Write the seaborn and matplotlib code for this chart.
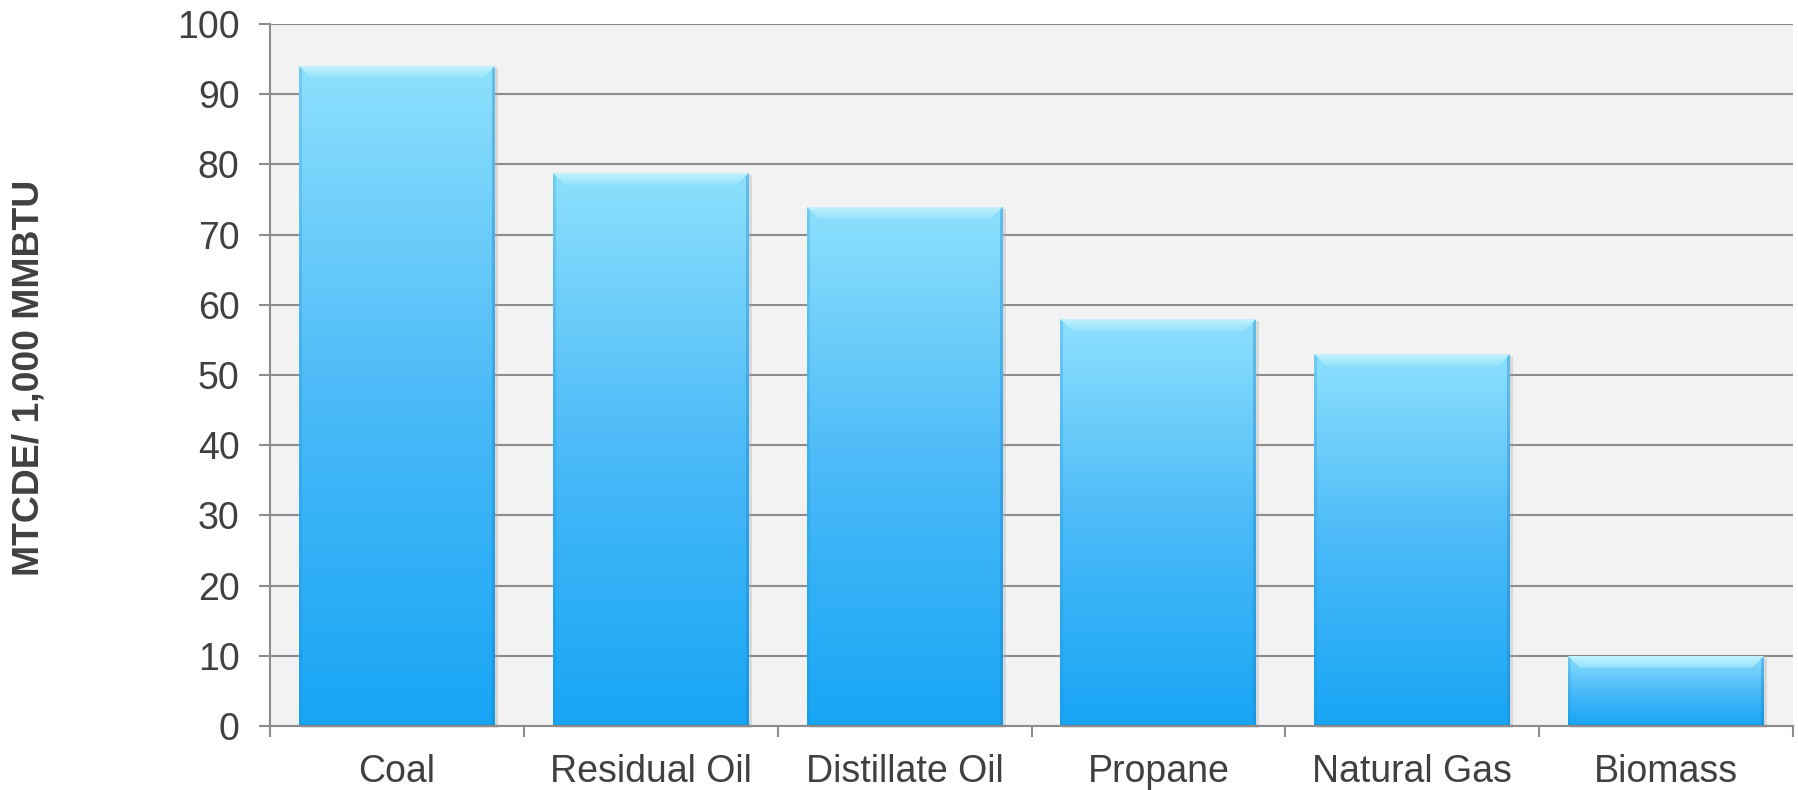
import numpy as np
import pandas as pd
import matplotlib
matplotlib.use("Agg")
import matplotlib.pyplot as plt
import seaborn as sns
from matplotlib.colors import LinearSegmentedColormap
from matplotlib.patches import Polygon, Rectangle

categories = ["Coal", "Residual Oil", "Distillate Oil", "Propane", "Natural Gas", "Biomass"]
values = [94, 78.8, 74, 58, 53, 10]
y_ticks = [0, 10, 20, 30, 40, 50, 60, 70, 80, 90, 100]
y_label = "MTCDE/ 1,000 MMBTU"

sns.set_theme(style="white")
plt.rcParams['font.family'] = ['Liberation Sans', 'DejaVu Sans']

W, H = 1798, 790
fig = plt.figure(figsize=(W / 100, H / 100), dpi=100)
left, right, top, bottom = 270, 1793, 24, 726
ax = fig.add_axes([left / W, (H - bottom) / H, (right - left) / W, (bottom - top) / H])
ax.set_facecolor("#f2f2f2")

df = pd.DataFrame({"cat": categories, "val": values})
sns.barplot(data=df, x="cat", y="val", ax=ax, color="#5bc1f8", width=0.772,
            saturation=1, edgecolor="none", linewidth=0, zorder=3)

ax.set_xlim(-0.5, len(categories) - 0.5)
ax.set_ylim(0, 100)
ax.set_yticks(y_ticks)

grid_c = "#8c8c8c"
ax.yaxis.grid(True, color=grid_c, linewidth=1.5, zorder=0)
ax.xaxis.grid(False)
for s in ["top", "right"]:
    ax.spines[s].set_visible(False)
for s in ["left", "bottom"]:
    ax.spines[s].set_color(grid_c)
    ax.spines[s].set_linewidth(1.5)
    ax.spines[s].set_zorder(4)

txt_c = "#404040"
ax.tick_params(axis="y", which="major", length=8, width=1.5, color=grid_c,
               labelsize=27, labelcolor=txt_c, pad=14, left=True)
ax.tick_params(axis="x", which="major", length=0, labelsize=27, labelcolor=txt_c, pad=20)
ax.set_xticks(np.arange(-0.5, len(categories) + 0.5, 1.0), minor=True)
ax.tick_params(axis="x", which="minor", length=8, width=1.5, color=grid_c, bottom=True)
ax.set_xlabel("")
ax.set_ylabel("")
fig.text(29 / W, 1 - 378 / H, y_label, rotation=90, ha="center", va="center",
         fontsize=26.9, fontweight="bold", color=txt_c)

body = LinearSegmentedColormap.from_list("body", ["#17a5f5", "#4bbaf8", "#8de0fc"])
bevel = LinearSegmentedColormap.from_list("bev", ["#93e2fc", "#c4f3fe"])
grad = np.linspace(0, 1, 256).reshape(-1, 1)

dx_px = 6.0 / (right - left)
dy_px = 100.0 / (bottom - top)
bev = 12
for p in list(ax.patches):
    x, w, h = p.get_x(), p.get_width(), p.get_height()
    sh = Rectangle((x + 2 * dx_px, -2 * dy_px), w + 1 * dx_px, h, facecolor="#a0a0a0", alpha=0.3,
                   edgecolor="none", zorder=2, clip_on=False)
    ax.add_patch(sh)
    im = ax.imshow(grad, cmap=body, aspect="auto", origin="lower",
                   extent=[x, x + w, 0, h], zorder=3.1)
    im.set_clip_path(p)
    p.set_facecolor("none")
    bx, by = bev * dx_px, bev * dy_px
    tp = Polygon([(x, h), (x + w, h), (x + w - bx, h - by), (x + bx, h - by)],
                 closed=True, facecolor="none", edgecolor="none", zorder=3.2)
    ax.add_patch(tp)
    im2 = ax.imshow(grad, cmap=bevel, aspect="auto", origin="lower",
                    extent=[x, x + w, h - by, h], zorder=3.2)
    im2.set_clip_path(tp)
    ew = 3 * dx_px
    rp = Polygon([(x + w, h), (x + w, 0), (x + w - ew, 0), (x + w - ew, h - ew / dx_px * dy_px)],
                 closed=True, facecolor="#1680c4", alpha=0.35, edgecolor="none", zorder=3.3)
    ax.add_patch(rp)
    lp = Polygon([(x, h), (x, 0), (x + ew, 0), (x + ew, h - ew / dx_px * dy_px)],
                 closed=True, facecolor="#1a90d8", alpha=0.25, edgecolor="none", zorder=3.3)
    ax.add_patch(lp)
    ax.plot([x, x + w], [1.0 * dy_px, 1.0 * dy_px], color="#1486c8", lw=2,
            alpha=0.5, zorder=3.4, solid_capstyle="butt")

ax.set_xlim(-0.5, len(categories) - 0.5)
ax.set_ylim(0, 100)
fig.savefig("out.png", dpi=100, facecolor="white")
